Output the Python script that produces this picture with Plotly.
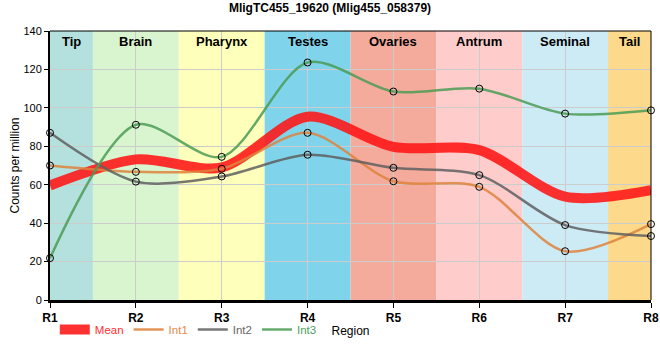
import plotly.graph_objects as go

regions = ["R1", "R2", "R3", "R4", "R5", "R6", "R7", "R8"]
int1 = [70.0, 66.7, 68.3, 87.0, 61.8, 58.9, 25.4, 39.5]
int2 = [87.0, 61.6, 64.3, 75.6, 68.8, 65.0, 39.0, 33.3]
int3 = [21.8, 91.2, 74.5, 123.6, 108.5, 110.0, 97.0, 98.7]
mean = [59.6, 73.2, 69.0, 95.4, 79.7, 78.0, 53.8, 57.2]

band_names = ["Tip", "Brain", "Pharynx", "Testes", "Ovaries", "Antrum", "Seminal", "Tail"]
band_colors = ["#b4e1dd", "#d8f5d0", "#ffffbc", "#7fd4eb", "#f4ab9c", "#ffcccc", "#cdebf5", "#fdd98b"]

fig = go.Figure()

series = [
    ("Mean", mean, "rgba(255,20,20,0.88)", 10, "#ff3030"),
    ("Int1", int1, "rgba(222,130,60,0.85)", 2.5, "#e6894a"),
    ("Int2", int2, "rgba(95,95,95,0.85)", 2.5, "#666666"),
    ("Int3", int3, "rgba(75,155,85,0.85)", 2.5, "#4f9e5f"),
]
for name, vals, col, w, tcol in series:
    fig.add_trace(go.Scatter(
        x=regions, y=vals, mode="lines", name=f"<span style='color:{tcol}'>{name}</span>",
        line=dict(color=col, width=w, shape="spline", smoothing=0.85),
        hoverinfo="skip",
    ))
for name, vals, col, w, tcol in series[1:]:
    fig.add_trace(go.Scatter(
        x=regions, y=vals, mode="markers", showlegend=False,
        marker=dict(size=7, color="rgba(0,0,0,0)", line=dict(color="black", width=1)),
        hoverinfo="skip", cliponaxis=False,
    ))

n = len(regions)
shapes = []
annotations = []
for i, (bn, bc) in enumerate(zip(band_names, band_colors)):
    x0 = max(i - 0.5, 0)
    x1 = min(i + 0.5, n - 1)
    shapes.append(dict(type="rect", xref="x", yref="paper", x0=x0, x1=x1, y0=0, y1=1,
                       fillcolor=bc, line=dict(width=0), layer="below"))
    annotations.append(dict(x=(x0 + x1) / 2, y=1, xref="x", yref="paper", text=f"<b>{bn}</b>",
                            showarrow=False, yanchor="top", yshift=-1,
                            font=dict(size=13, color="black", family="Liberation Sans, Arial")))
# frame top/right thin
shapes.append(dict(type="line", xref="paper", yref="paper", x0=0, x1=1, y0=1, y1=1,
                   line=dict(color="black", width=1)))
shapes.append(dict(type="line", xref="paper", yref="paper", x0=1, x1=1, y0=0, y1=1,
                   line=dict(color="black", width=1)))

fig.update_layout(
    width=660, height=360,
    margin=dict(l=50, r=9, t=31, b=60, autoexpand=False),
    paper_bgcolor="white", plot_bgcolor="white",
    font=dict(family="Liberation Sans, Arial", size=11, color="black"),
    title=dict(text="<b>MligTC455_19620 (Mlig455_058379)</b>", x=0.5, xanchor="center",
               yref="container", y=0.99, yanchor="top", font=dict(size=12)),
    shapes=shapes, annotations=annotations,
    showlegend=True,
    legend=dict(orientation="h", x=0.008, xanchor="left", y=-0.056, yanchor="top",
                font=dict(size=11.5), itemwidth=30,
                bgcolor="rgba(0,0,0,0)", tracegroupgap=0),
    xaxis=dict(
        type="category", range=[0, n - 1], showgrid=True, gridcolor="#cccccc", gridwidth=1,
        showline=True, linecolor="black", linewidth=3, ticks="outside", ticklen=5, tickcolor="black",
        tickfont=dict(size=12, color="black", family="Liberation Sans, Arial"),
        tickprefix="<b>", ticksuffix="</b>", automargin=False, ticklabeloverflow="allow",
        title=dict(text="Region", font=dict(size=12), standoff=3),
        zeroline=False, fixedrange=True,
    ),
    yaxis=dict(
        range=[0, 140], dtick=20, showgrid=True, gridcolor="#cccccc", gridwidth=1,
        showline=True, linecolor="black", linewidth=2, ticks="outside", ticklen=4, tickcolor="black",
        tickfont=dict(size=11, color="black"), automargin=False,
        title=dict(text="Counts per million", font=dict(size=12), standoff=1),
        zeroline=False, fixedrange=True,
    ),
)

fig.write_html(
    "out.html",
    config={"displayModeBar": False},
    post_script="document.body.style.margin='0';document.body.style.overflow='hidden';",
)
